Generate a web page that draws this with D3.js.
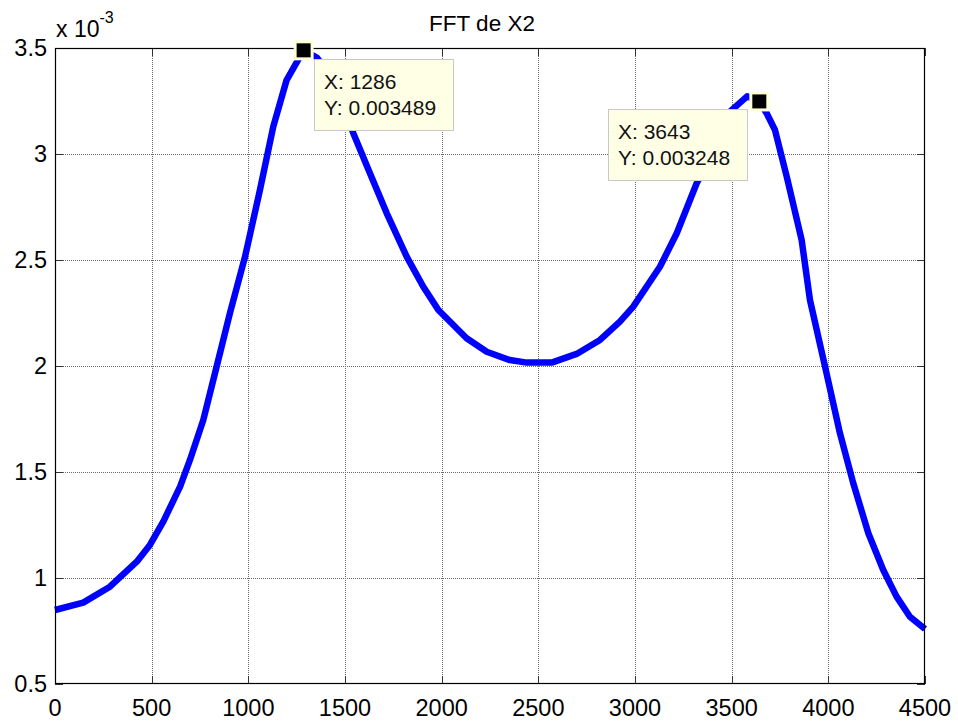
<!DOCTYPE html>
<html><head><meta charset="utf-8">
<script src="https://cdn.jsdelivr.net/npm/d3@7"></script>
<style>html,body{margin:0;padding:0;background:#fff;}</style>
</head><body><svg id="c" width="958" height="722"></svg>
<script>
const freqHz = [0,146,284,423,491,560,647,698,767,836,905,983,1060,1129,1198,1267,1286,1354,1440,1543,1629,1716,1819,1905,1983,2129,2233,2353,2440,2569,2698,2819,2922,2991,3129,3216,3319,3422,3491,3580,3643,3681,3724,3785,3862,3905,3983,4060,4129,4207,4284,4353,4422,4500];
const magE3 = [0.849,0.884,0.959,1.077,1.156,1.266,1.431,1.557,1.745,1.997,2.250,2.516,2.830,3.129,3.349,3.459,3.489,3.455,3.349,3.098,2.909,2.720,2.516,2.374,2.264,2.131,2.067,2.028,2.016,2.016,2.057,2.123,2.209,2.280,2.468,2.626,2.862,3.034,3.200,3.272,3.248,3.192,3.113,2.893,2.594,2.311,1.997,1.683,1.447,1.211,1.038,0.912,0.817,0.759];
const xTicks = [0,500,1000,1500,2000,2500,3000,3500,4000,4500];
const yTicks = [0.5,1,1.5,2,2.5,3,3.5];
const tips = [{x:1286, y:3.489, lx:"X: 1286", ly:"Y: 0.003489"}, {x:3643, y:3.248, lx:"X: 3643", ly:"Y: 0.003248"}];

const svg = d3.select("#c");
const L=55, R=925, T=48, B=684;
const x = d3.scaleLinear().domain([0,4500]).range([L,R]);
const y = d3.scaleLinear().domain([0.5,3.5]).range([B,T]);
const font = "Arial, 'Liberation Sans', Helvetica, sans-serif";

svg.append("rect").attr("x",L).attr("y",T).attr("width",R-L).attr("height",B-T).attr("fill","#fff");

// grid
const g = svg.append("g");
g.selectAll("line.vx").data(xTicks.slice(1,-1)).join("line")
  .attr("x1",d=>Math.round(x(d))+0.5).attr("x2",d=>Math.round(x(d))+0.5).attr("y1",T).attr("y2",B)
  .attr("stroke","#6a6a6a").attr("stroke-width",1).attr("stroke-dasharray","1,1");
g.selectAll("line.hy").data(yTicks.slice(1,-1)).join("line")
  .attr("y1",d=>Math.round(y(d))+0.5).attr("y2",d=>Math.round(y(d))+0.5).attr("x1",L).attr("x2",R)
  .attr("stroke","#6a6a6a").attr("stroke-width",1).attr("stroke-dasharray","1,1");

// ticks (inward, all sides)
const tl = 8;
const tk = svg.append("g").attr("stroke","#333").attr("stroke-width",1);
xTicks.forEach(d=>{const px=Math.round(x(d))+0.5;
  tk.append("line").attr("x1",px).attr("x2",px).attr("y1",B).attr("y2",B-tl);
  tk.append("line").attr("x1",px).attr("x2",px).attr("y1",T).attr("y2",T+tl);});
yTicks.forEach(d=>{const py=Math.round(y(d))+0.5;
  tk.append("line").attr("y1",py).attr("y2",py).attr("x1",L).attr("x2",L+tl);
  tk.append("line").attr("y1",py).attr("y2",py).attr("x1",R).attr("x2",R-tl);});

// line
const line = d3.line().x((d,i)=>x(freqHz[i])).y(d=>y(d));
svg.append("path").datum(magE3).attr("d",line).attr("fill","none")
  .attr("stroke","#0000ff").attr("stroke-width",6.5).attr("stroke-linejoin","round");

// box
svg.append("rect").attr("x",L+0.5).attr("y",T+0.5).attr("width",R-L-1).attr("height",B-T-1)
  .attr("fill","none").attr("stroke","#000").attr("stroke-width",1.2);

// tick labels
svg.selectAll("text.xt").data(xTicks).join("text")
  .attr("x",d=>x(d)).attr("y",716).attr("text-anchor","middle")
  .attr("font-family",font).attr("font-size",23.5).attr("fill","#000").text(d=>d);
svg.selectAll("text.yt").data(yTicks).join("text")
  .attr("x",47).attr("y",d=>y(d)+8).attr("text-anchor","end")
  .attr("font-family",font).attr("font-size",23.5).attr("fill","#000").text(d=>d);

// exponent
const ex = svg.append("text").attr("x",56).attr("y",37).attr("font-family",font).attr("font-size",23).attr("fill","#000");
ex.append("tspan").text("x 10");
ex.append("tspan").attr("font-size",16).attr("dy",-14).text("-3");

// title
svg.append("text").attr("x",482).attr("y",31).attr("text-anchor","middle")
  .attr("font-family",font).attr("font-size",22.5).attr("fill","#000").text("FFT de X2");

// datatips
const boxes = [{bx:314,by:59,bw:139,bh:71},{bx:608,by:109,bw:139,bh:71}];
tips.forEach((t,i)=>{
  const b = boxes[i];
  svg.append("rect").attr("x",b.bx+0.5).attr("y",b.by+0.5).attr("width",b.bw).attr("height",b.bh)
    .attr("fill","#ffffe6").attr("stroke","#c8c8c8").attr("stroke-width",1);
  svg.append("text").attr("x",b.bx+10).attr("y",b.by+30).attr("font-family",font).attr("font-size",21).attr("fill","#111").text(t.lx);
  svg.append("text").attr("x",b.bx+10).attr("y",b.by+56).attr("font-family",font).attr("font-size",21).attr("fill","#111").text(t.ly);
  svg.append("rect").attr("x",x(t.x)-8.5).attr("y",y(t.y)-8.5).attr("width",17).attr("height",17)
    .attr("fill","#000").attr("stroke","#ffffd8").attr("stroke-width",3);
});
</script></body></html>
